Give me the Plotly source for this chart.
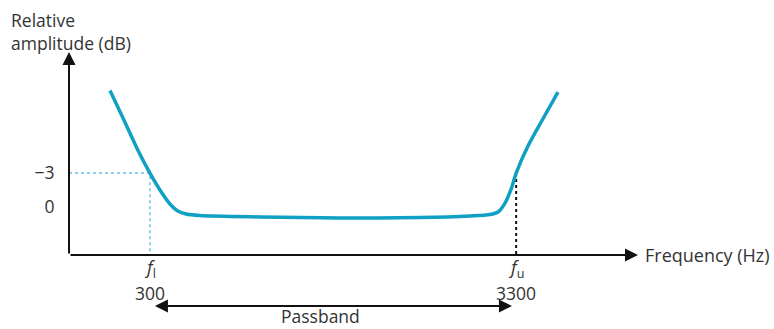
import math
import plotly.graph_objects as go

# Filter response curve: frequency (Hz) and relative level (dB)
freq_hz = [231, 253, 275.5, 300, 324.5, 344, 360, 380, 416, 617, 1040, 1757,
           2439, 2781, 2931, 3068, 3191, 3300, 3566, 3934, 4340]
level_db = [-10.3, -7.7, -5.2, -3.0, -1.24, -0.18, 0.35, 0.62, 0.75, 0.88, 0.97, 0.93,
            0.79, 0.66, 0.44, -0.35, -1.55, -3.0, -5.4, -7.8, -10.15]

# Band edges and their labels
edge_hz = [300, 3300]
edge_names = ["<i>f</i><sub>l</sub>", "<i>f</i><sub>u</sub>"]
edge_values = ["300", "3300"]

# y-axis tick marks
y_ticks = [-3, 0]
y_ticktext = ["\u22123", "0"]

FONT = "Open Sans"
CURVE = "#0fa0c3"
TEXT = "#333333"

x_range = [2.247, 3.865]   # log10 Hz
y_range = [4.24, -13.7]     # reversed: attenuation grows upward

fig = go.Figure()

# Dotted guide at the lower edge (light blue)
fig.add_trace(go.Scatter(
    x=[10 ** x_range[0], edge_hz[0], edge_hz[0]],
    y=[-3, -3, y_range[0]],
    mode="lines",
    line=dict(color="#8ccfe6", width=2, dash="dot"),
    hoverinfo="skip", showlegend=False,
))
# Dotted guide at the upper edge (black)
fig.add_trace(go.Scatter(
    x=[edge_hz[1], edge_hz[1]],
    y=[-3, y_range[0]],
    mode="lines",
    line=dict(color="#111111", width=2, dash="dot"),
    hoverinfo="skip", showlegend=False,
))
# Response curve
fig.add_trace(go.Scatter(
    x=freq_hz, y=level_db,
    mode="lines",
    line=dict(color=CURVE, width=3.5, shape="spline", smoothing=0.8),
    hoverinfo="skip", showlegend=False,
))

annotations = []

# Axis arrows
annotations.append(dict(
    x=1, y=0, xref="paper", yref="paper",
    ax=-569, ay=0, axref="pixel", ayref="pixel",
    text="", showarrow=True, arrowhead=2, arrowsize=1.3, arrowwidth=2, arrowcolor="#111111",
))
annotations.append(dict(
    x=0, y=1, xref="paper", yref="paper",
    ax=0, ay=203, axref="pixel", ayref="pixel",
    text="", showarrow=True, arrowhead=2, arrowsize=1.3, arrowwidth=2, arrowcolor="#111111",
))

# Axis titles
annotations.append(dict(
    x=-0.105, y=1.228, xref="paper", yref="paper", xanchor="left", yanchor="top",
    text="Relative<br>amplitude (dB)", showarrow=False, align="left",
    font=dict(family=FONT, size=17.5, color=TEXT),
))
annotations.append(dict(
    x=1.008, y=0, xref="paper", yref="paper", xanchor="left", yanchor="middle",
    text="Frequency (Hz)", showarrow=False,
    font=dict(family=FONT, size=18, color=TEXT),
))

# Band-edge labels under the x axis
for f, name, val in zip(edge_hz, edge_names, edge_values):
    annotations.append(dict(
        x=math.log10(f), y=-0.065, xref="x", yref="paper", yanchor="middle",
        text=name, showarrow=False,
        font=dict(family=FONT, size=18, color=TEXT),
    ))
    annotations.append(dict(
        x=math.log10(f), y=-0.185, xref="x", yref="paper", yanchor="middle",
        text=val, showarrow=False,
        font=dict(family=FONT, size=17.5, color=TEXT),
    ))

# Passband double arrow
annotations.append(dict(
    x=math.log10(edge_hz[1]) - 0.012, y=-0.251, xref="x", yref="paper",
    ax=math.log10(edge_hz[0]) + 0.01, ay=0, axref="x", ayref="pixel",
    text="", showarrow=True, arrowhead=2, startarrowhead=2, arrowside="end+start",
    arrowsize=1.3, startarrowsize=1.3, arrowwidth=2, arrowcolor="#111111",
))
annotations.append(dict(
    x=2.9635, y=-0.302,
    xref="x", yref="paper", yanchor="middle",
    text="Passband", showarrow=False,
    font=dict(family=FONT, size=17.5, color=TEXT),
))

fig.update_layout(
    width=774, height=329,
    margin=dict(l=69, r=136, t=52, b=74),
    paper_bgcolor="white", plot_bgcolor="white",
    annotations=annotations,
    xaxis=dict(type="log", range=x_range, showgrid=False, zeroline=False,
               showline=False, showticklabels=False, ticks=""),
    yaxis=dict(range=y_range, showgrid=False, zeroline=False, showline=False,
               tickmode="array", tickvals=y_ticks, ticktext=y_ticktext,
               ticks="outside", ticklen=10, tickcolor="rgba(0,0,0,0)",
               tickfont=dict(family=FONT, size=17.5, color=TEXT)),
)

fig.write_html("out.html")
